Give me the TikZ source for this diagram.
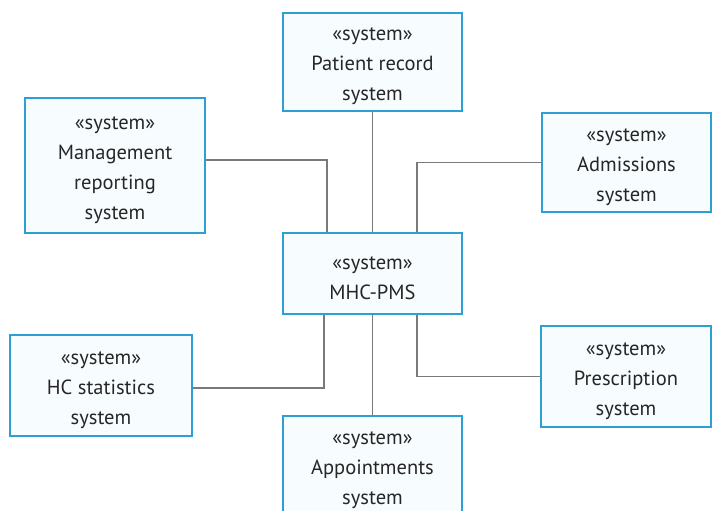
\documentclass[tikz,border=0pt]{standalone}
\usepackage{fontspec}
\setmainfont{PT Sans}
\definecolor{boxblue}{HTML}{2E9FD3}
\definecolor{boxfill}{HTML}{F7FCFE}
\definecolor{txt}{HTML}{262626}
\definecolor{wire}{HTML}{7A7A7A}
\newcommand{\stt}{\rule{0pt}{22pt}«system»}
\tikzset{
  sysbox/.style={draw=boxblue, line width=2pt, fill=boxfill, align=center,
    text=txt, inner sep=0pt,
    font=\fontsize{20.5}{30}\selectfont},
  wire/.style={draw=wire, line width=1.4pt}
}
\begin{document}
\begin{tikzpicture}[x=1pt,y=-1pt]
\useasboundingbox (0,0) rectangle (713,511);
\node[sysbox, minimum width=179pt, minimum height=98pt] (pr) at (372.5,62) {\stt\\Patient record\\system};
\node[sysbox, minimum width=179pt, minimum height=81pt] (mhc) at (372.5,273.5) {\stt\\MHC-PMS};
\node[sysbox, minimum width=180pt, minimum height=135pt] (mg) at (115,165.5) {\stt\\Management\\reporting\\system};
\node[sysbox, minimum width=169pt, minimum height=99pt] (ad) at (626.5,162.5) {\stt\\Admissions\\system};
\node[sysbox, minimum width=182pt, minimum height=101pt] (hc) at (101,385.5) {\stt\\HC statistics\\system};
\node[sysbox, minimum width=179pt, minimum height=100pt] (ap) at (372.5,466) {\stt\\Appointments\\system};
\node[sysbox, minimum width=170pt, minimum height=101pt] (ps) at (626,376.5) {\stt\\Prescription\\system};
\draw[wire] (pr.south) -- (mhc.north);
\draw[wire] ([yshift=5.5pt]mg.east) -| ([xshift=-45.5pt]mhc.north);
\draw[wire] (ad.west) -| ([xshift=44.5pt]mhc.north);
\draw[wire] ([yshift=-2.5pt]hc.east) -| ([xshift=-48.5pt]mhc.south);
\draw[wire] (ps.west) -| ([xshift=44.5pt]mhc.south);
\draw[wire] (mhc.south) -- (ap.north);
\end{tikzpicture}
\end{document}
